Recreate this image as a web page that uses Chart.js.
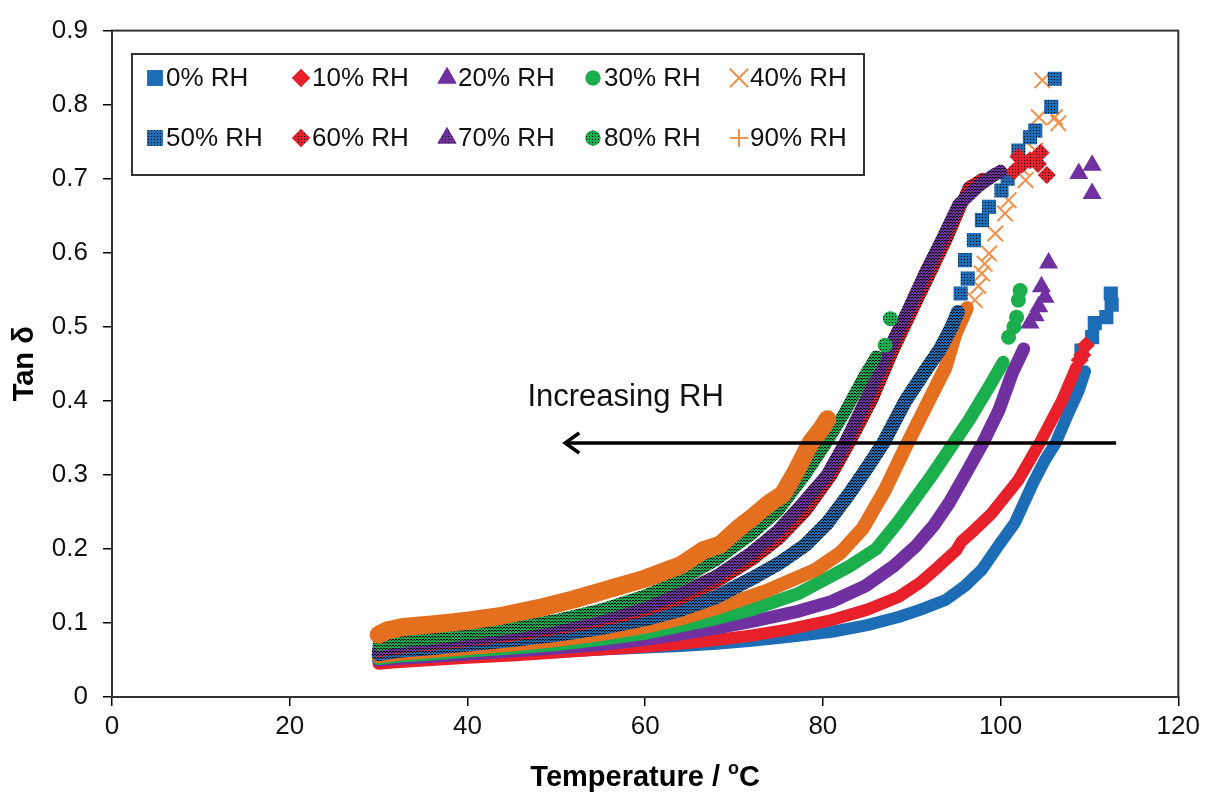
<!DOCTYPE html>
<html>
<head>
<meta charset="utf-8">
<script src="https://cdn.jsdelivr.net/npm/chart.js@4.4.1/dist/chart.umd.min.js"></script>
<style>
  html, body { margin: 0; padding: 0; background: #fff; }
  #contenedor { width: 1205px; height: 796px; }
</style>
</head>
<body>
<div id="contenedor"><canvas id="grafico" width="1205" height="796"></canvas></div>
<script>
// Datos (Temperatura en oC, Tan delta)
const etiquetas = ['0% RH', '10% RH', '20% RH', '30% RH', '40% RH', '50% RH', '60% RH', '70% RH', '80% RH', '90% RH'];

const temp0 = [30, 32, 36, 40, 45, 50, 55, 60, 64, 68, 72, 76, 81, 85, 88.5, 91, 93.8, 96, 97.9, 99.8, 101.6, 103.7, 105, 106.2, 107.5, 108.8, 109.5];
const tan0 = [0.05, 0.051, 0.053, 0.055, 0.058, 0.061, 0.064, 0.067, 0.069, 0.072, 0.076, 0.081, 0.088, 0.097, 0.108, 0.118, 0.131, 0.15, 0.172, 0.205, 0.235, 0.29, 0.32, 0.343, 0.38, 0.414, 0.44];
const temp0Fin = [109.1, 110.3, 110.6, 111.9, 112.4, 112.5];
const tan0Fin = [0.468, 0.486, 0.505, 0.513, 0.545, 0.53];

const temp10 = [30, 32, 36, 40, 45, 50, 55, 60, 64, 68, 72, 76, 81, 85, 88.5, 91, 93, 95, 95.6, 97, 99, 102, 104.4, 106.9, 108.5];
const tan10 = [0.045, 0.047, 0.05, 0.053, 0.056, 0.06, 0.064, 0.068, 0.072, 0.077, 0.083, 0.091, 0.104, 0.118, 0.135, 0.155, 0.176, 0.198, 0.21, 0.225, 0.248, 0.293, 0.343, 0.4, 0.445];
const temp10Fin = [109.2, 109.6, 108.9];
const tan10Fin = [0.462, 0.475, 0.455];

const temp20 = [30, 32, 36, 40, 45, 50, 55, 60, 64, 68, 72, 77.3, 81, 84.8, 88, 90.4, 92.5, 94.2, 96, 98, 99.8, 101.3, 102.6];
const tan20 = [0.05, 0.052, 0.055, 0.058, 0.062, 0.066, 0.071, 0.078, 0.085, 0.093, 0.102, 0.116, 0.129, 0.15, 0.177, 0.203, 0.232, 0.262, 0.3, 0.343, 0.387, 0.437, 0.47];
const temp20Fin = [103.3, 103.9, 104.3, 104.6, 105.0, 105.4, 108.8, 110.3, 110.3];
const tan20Fin = [0.505, 0.515, 0.527, 0.554, 0.54, 0.586, 0.707, 0.718, 0.68];

const temp30 = [30, 32, 36, 40, 45, 50, 55, 60, 64, 68, 72, 77.3, 82.9, 86, 88.5, 92.3, 94.7, 96.5, 98.7, 100.3];
const tan30 = [0.052, 0.055, 0.058, 0.062, 0.066, 0.071, 0.078, 0.086, 0.096, 0.106, 0.118, 0.14, 0.176, 0.2, 0.237, 0.3, 0.343, 0.375, 0.419, 0.452];
const temp30Fin = [100.9, 101.5, 101.8, 102.0, 102.2];
const tan30Fin = [0.486, 0.5, 0.513, 0.536, 0.549];

const temp40 = [30, 32, 36, 40, 45, 50, 55, 60, 64, 68, 73.6, 79.2, 82, 84.5, 87, 89.2, 91.5, 93.8, 94.9, 96.2];
const tan40 = [0.055, 0.058, 0.062, 0.066, 0.071, 0.077, 0.085, 0.095, 0.106, 0.12, 0.143, 0.172, 0.195, 0.228, 0.28, 0.335, 0.39, 0.445, 0.49, 0.525];
const temp40Fin = [97.1, 97.5, 97.9, 98.2, 98.7, 99.4, 100.5, 100.9, 102.3, 102.8, 103.9, 104.3, 106.1, 106.5, 104.7];
const tan40Fin = [0.536, 0.555, 0.572, 0.585, 0.599, 0.626, 0.653, 0.671, 0.715, 0.698, 0.738, 0.783, 0.783, 0.775, 0.833];

const temp50 = [30, 32, 36, 40, 45, 50, 55, 60, 64, 68, 72, 75, 78, 80.5, 83, 85, 86.8, 89.3, 91.5, 93.2, 94.5, 95.2];
const tan50 = [0.058, 0.062, 0.066, 0.071, 0.077, 0.084, 0.093, 0.105, 0.118, 0.135, 0.16, 0.18, 0.205, 0.235, 0.275, 0.31, 0.343, 0.4, 0.44, 0.47, 0.5, 0.52];
const temp50Fin = [95.5, 96, 96.3, 97, 97.9, 98.7, 100.1, 100.8, 102, 103.3, 103.9, 105.7, 106.1];
const tan50Fin = [0.545, 0.59, 0.565, 0.617, 0.644, 0.662, 0.684, 0.7, 0.738, 0.756, 0.765, 0.797, 0.835];

const temp60 = [30, 32, 36, 40, 45, 50, 55, 60, 64, 68, 72, 75, 78, 81, 83, 85.5, 88, 90, 92, 94, 96.4, 98];
const tan60 = [0.062, 0.066, 0.071, 0.076, 0.083, 0.092, 0.103, 0.117, 0.133, 0.155, 0.185, 0.213, 0.25, 0.3, 0.343, 0.4, 0.47, 0.52, 0.57, 0.62, 0.688, 0.7];
const temp60Fin = [101.5, 102, 102.5, 103.3, 104.2, 104.5, 105.2];
const tan60Fin = [0.71, 0.73, 0.72, 0.725, 0.72, 0.735, 0.705];

const temp70 = [30, 32, 36, 40, 45, 50, 55, 60, 64, 68, 72, 75, 78, 80.5, 82.5, 85, 87.4, 89.5, 91.5, 93.5, 95.3, 97.5, 99, 100];
const tan70 = [0.064, 0.068, 0.073, 0.078, 0.086, 0.095, 0.107, 0.122, 0.14, 0.163, 0.195, 0.225, 0.265, 0.3, 0.343, 0.405, 0.468, 0.52, 0.572, 0.62, 0.665, 0.69, 0.703, 0.71];
const temp70Fin = [];
const tan70Fin = [];

const temp80 = [30, 32, 36, 40, 45, 50, 55, 60, 64, 68, 72, 75, 78, 80.4, 82.5, 84.5, 86];
const tan80 = [0.07, 0.074, 0.079, 0.085, 0.093, 0.104, 0.118, 0.137, 0.158, 0.185, 0.22, 0.252, 0.3, 0.343, 0.385, 0.43, 0.46];
const temp80Fin = [87.0, 87.6];
const tan80Fin = [0.475, 0.511];

const temp90 = [30, 31, 33, 36, 40, 44, 48, 52, 56, 60, 64, 66.5, 68.5, 70.5, 72, 74, 75.5, 77, 78.6, 80, 80.5];
const tan90 = [0.084, 0.09, 0.095, 0.098, 0.103, 0.11, 0.12, 0.132, 0.146, 0.16, 0.178, 0.198, 0.206, 0.228, 0.242, 0.262, 0.274, 0.305, 0.343, 0.365, 0.375];
const temp90Fin = [];
const tan90Fin = [];

const xTicks = [0, 20, 40, 60, 80, 100, 120];
const yTicks = [0, 0.1, 0.2, 0.3, 0.4, 0.5, 0.6, 0.7, 0.8, 0.9];
const yTickLabels = ['0', '0.1', '0.2', '0.3', '0.4', '0.5', '0.6', '0.7', '0.8', '0.9'];

// Flecha "Increasing RH" en coordenadas de los ejes
const flechaDesde = [113, 0.343];
const flechaHasta = [51, 0.343];
const textoFlecha = 'Increasing RH';
const textoPos = [57.8, 0.405];

const FUENTE = '"Liberation Sans", Arial, sans-serif';
const AZUL = '#1C6DB6';
const ROJO = '#E8202A';
const MORADO = '#7030A0';
const VERDE = '#1BAE4C';
const NARANJA = '#E4701F';
const NARANJA_CLARO = '#F0914A';

// patron de puntos negros para las series 50-80%
function patron(color, denso) {
    const c = document.createElement('canvas');
    c.width = 3; c.height = 3;
    const g = c.getContext('2d');
    g.fillStyle = color;
    g.fillRect(0, 0, 3, 3);
    g.fillStyle = '#000';
    g.fillRect(1, 1, 1, 1);
    if (denso) {
        g.fillRect(0, 0, 1, 1);
        g.fillRect(2, 0, 1, 1);
    }
    return g.createPattern(c, 'repeat');
}

const series = [
    {t: temp0, v: tan0, tf: temp0Fin, vf: tan0Fin, color: AZUL, estilo: 'rect', r: 10, ancho: 12},
    {t: temp10, v: tan10, tf: temp10Fin, vf: tan10Fin, color: ROJO, estilo: 'rectRot', r: 9, ancho: 12},
    {t: temp20, v: tan20, tf: temp20Fin, vf: tan20Fin, color: MORADO, estilo: 'triangle', r: 11, ancho: 13},
    {t: temp30, v: tan30, tf: temp30Fin, vf: tan30Fin, color: VERDE, estilo: 'circle', r: 7.5, ancho: 13},
    {t: temp40, v: tan40, tf: temp40Fin, vf: tan40Fin, color: NARANJA, estilo: 'crossRot', r: 11, ancho: 14},
    {t: temp50, v: tan50, tf: temp50Fin, vf: tan50Fin, color: AZUL, estilo: 'rect', r: 10, ancho: 14, puntos: true},
    {t: temp60, v: tan60, tf: temp60Fin, vf: tan60Fin, color: ROJO, estilo: 'rectRot', r: 9, ancho: 12, puntos: true},
    {t: temp70, v: tan70, tf: temp70Fin, vf: tan70Fin, color: MORADO, estilo: 'triangle', r: 11, ancho: 13, puntos: true},
    {t: temp80, v: tan80, tf: temp80Fin, vf: tan80Fin, color: VERDE, estilo: 'circle', r: 7.5, ancho: 12, puntos: true},
    {t: temp90, v: tan90, tf: temp90Fin, vf: tan90Fin, color: NARANJA, estilo: 'cross', r: 9, ancho: 18}
];

const datasets = [];
series.forEach(function(s, i) {
    const relleno = s.puntos ? patron(s.color, false) : s.color;
    const banda = s.puntos ? patron(s.color, true) : s.color;
    const esCruz = s.estilo === 'cross' || s.estilo === 'crossRot';
    datasets.push({
        label: etiquetas[i],
        data: s.t.map((x, k) => ({x: x, y: s.v[k]})),
        showLine: true,
        borderColor: banda,
        borderWidth: s.ancho,
        borderJoinStyle: 'round',
        borderCapStyle: 'round',
        pointRadius: 0,
        order: 9 - i
    });
    datasets.push({
        label: etiquetas[i] + ' fin',
        data: s.tf.map((x, k) => ({x: x, y: s.vf[k]})),
        showLine: false,
        pointStyle: s.estilo,
        pointRadius: s.r,
        backgroundColor: relleno,
        borderColor: esCruz ? NARANJA_CLARO : s.color,
        borderWidth: esCruz ? 2 : 0,
        order: 9 - i
    });
});

// Leyenda en recuadro dentro del area
const leyendaPlugin = {
    id: 'leyendaRecuadro',
    afterDatasetsDraw(chart) {
        const ctx = chart.ctx;
        ctx.save();
        ctx.fillStyle = '#fff';
        ctx.fillRect(132, 54, 732, 121);
        ctx.strokeStyle = '#333';
        ctx.lineWidth = 2;
        ctx.strokeRect(132, 54, 732, 121);
        ctx.font = '26px ' + FUENTE;
        ctx.textBaseline = 'middle';
        series.forEach(function(s, i) {
            const col = i % 5, fila = Math.floor(i / 5);
            const mx = 155 + col * 146;
            const my = 78 + fila * 60;
            const esCruz = s.estilo === 'cross' || s.estilo === 'crossRot';
            ctx.fillStyle = s.puntos ? patron(s.color, false) : s.color;
            ctx.strokeStyle = esCruz ? NARANJA_CLARO : s.color;
            let r = s.r;
            if (s.estilo === 'rect') r = 11;
            if (s.estilo === 'crossRot') r = 13;
            Chart.helpers.drawPoint(ctx, {pointStyle: s.estilo, radius: r, borderWidth: esCruz ? 2 : 0, rotation: 0}, mx, my);
            if (!esCruz) ctx.fill();
            ctx.fillStyle = '#111';
            ctx.fillText(etiquetas[i], mx + 11, my + 1);
        });
        ctx.restore();
    }
};

// Marco, flecha, texto y titulo del eje x
const adornosPlugin = {
    id: 'adornos',
    afterDraw(chart) {
        const ctx = chart.ctx;
        const xs = chart.scales.x, ys = chart.scales.y;
        const a = chart.chartArea;
        ctx.save();
        ctx.strokeStyle = '#333';
        ctx.lineWidth = 2;
        ctx.strokeRect(a.left, a.top, a.right - a.left, a.bottom - a.top);

        const x1 = xs.getPixelForValue(flechaDesde[0]), y1 = ys.getPixelForValue(flechaDesde[1]);
        const x2 = xs.getPixelForValue(flechaHasta[0]), y2 = ys.getPixelForValue(flechaHasta[1]);
        ctx.strokeStyle = '#000';
        ctx.lineWidth = 3.5;
        ctx.beginPath();
        ctx.moveTo(x1, y1);
        ctx.lineTo(x2 + 2, y2);
        ctx.stroke();
        ctx.beginPath();
        ctx.moveTo(x2 + 14, y2 - 10);
        ctx.lineTo(x2, y2);
        ctx.lineTo(x2 + 14, y2 + 10);
        ctx.stroke();

        ctx.fillStyle = '#111';
        ctx.font = '31px ' + FUENTE;
        ctx.textAlign = 'center';
        ctx.textBaseline = 'middle';
        ctx.fillText(textoFlecha, xs.getPixelForValue(textoPos[0]), ys.getPixelForValue(textoPos[1]));

        // titulo del eje x con superindice
        const grande = 'bold 29px ' + FUENTE, chica = 'bold 18px ' + FUENTE;
        ctx.textAlign = 'left';
        ctx.textBaseline = 'alphabetic';
        const parte1 = 'Temperature / ';
        ctx.font = grande;
        const w1 = ctx.measureText(parte1).width;
        const w3 = ctx.measureText('C').width;
        ctx.font = chica;
        const w2 = ctx.measureText('o').width;
        const x0 = (a.left + a.right) / 2 - (w1 + w2 + w3) / 2;
        const base = 786;
        ctx.fillStyle = '#000';
        ctx.font = grande;
        ctx.fillText(parte1, x0, base);
        ctx.fillText('C', x0 + w1 + w2, base);
        ctx.font = chica;
        ctx.fillText('o', x0 + w1, base - 12);
        ctx.restore();
    }
};

new Chart(document.getElementById('grafico'), {
    type: 'scatter',
    data: { datasets: datasets },
    options: {
        responsive: false,
        devicePixelRatio: 1,
        animation: false,
        layout: { padding: { top: 30, right: 26, left: 0, bottom: 0 } },
        plugins: {
            legend: { display: false },
            tooltip: { enabled: false }
        },
        scales: {
            x: {
                type: 'linear',
                min: 0, max: 120,
                afterBuildTicks: function(scale) { scale.ticks = xTicks.map(v => ({value: v})); },
                afterFit: function(scale) { scale.height = 99; },
                ticks: { color: '#111', font: { family: FUENTE, size: 26 }, padding: 5 },
                grid: { drawOnChartArea: false, drawTicks: true, tickLength: 9, color: '#000', lineWidth: 1.5 },
                border: { color: '#333', width: 2 }
            },
            y: {
                type: 'linear',
                min: 0, max: 0.9,
                afterBuildTicks: function(scale) { scale.ticks = yTicks.map(v => ({value: v})); },
                afterFit: function(scale) { scale.width = 112; },
                ticks: {
                    color: '#111', font: { family: FUENTE, size: 26 }, padding: 15,
                    callback: function(value, index) { return yTickLabels[index]; }
                },
                grid: { drawOnChartArea: false, drawTicks: true, tickLength: 9, color: '#000', lineWidth: 1.5 },
                border: { color: '#333', width: 2 },
                title: {
                    display: true, text: 'Tan δ', color: '#000',
                    font: { family: FUENTE, size: 29, weight: 'bold' },
                    padding: { top: 8, bottom: 0 }
                }
            }
        }
    },
    plugins: [leyendaPlugin, adornosPlugin]
});
</script>
</body>
</html>
